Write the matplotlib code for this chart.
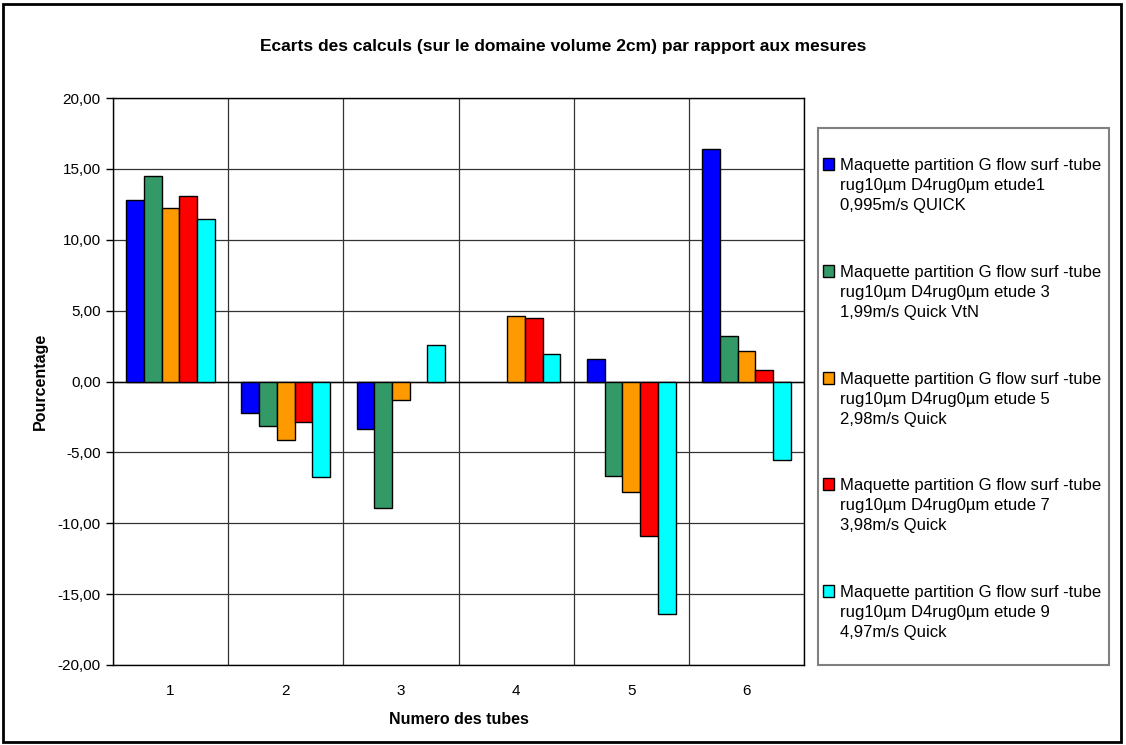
import numpy as np
import matplotlib.pyplot as plt
from matplotlib.patches import Rectangle
from matplotlib.ticker import FuncFormatter

plt.rcParams['font.family'] = ['Liberation Sans', 'DejaVu Sans']

# data (nan = no bar)
tubes = ['1', '2', '3', '4', '5', '6']
etude1 = [12.83, -2.19, -3.34, np.nan, 1.62, 16.37]
etude3 = [14.49, -3.16, -8.95, np.nan, -6.67, 3.18]
etude5 = [12.22, -4.12, -1.32, 4.64, -7.77, 2.12]
etude7 = [13.12, -2.85, np.nan, 4.50, -10.88, 0.80]
etude9 = [11.49, -6.76, 2.59, 1.95, -16.37, -5.54]

series = [etude1, etude3, etude5, etude7, etude9]
colors = ['#0000FF', '#339966', '#FF9900', '#FF0000', '#00FFFF']
labels = ['Maquette partition G flow surf -tube\nrug10µm D4rug0µm etude1\n0,995m/s QUICK',
          'Maquette partition G flow surf -tube\nrug10µm D4rug0µm etude 3\n1,99m/s Quick VtN',
          'Maquette partition G flow surf -tube\nrug10µm D4rug0µm etude 5\n2,98m/s Quick',
          'Maquette partition G flow surf -tube\nrug10µm D4rug0µm etude 7\n3,98m/s Quick',
          'Maquette partition G flow surf -tube\nrug10µm D4rug0µm etude 9\n4,97m/s Quick']

W, H = 1126, 745
fig = plt.figure(figsize=(W/100, H/100), dpi=100)
ax = fig.add_axes([113/W, 1-665/H, (804-113)/W, (665-98)/H])

x = np.arange(len(tubes))
w = 1/6.5
for i, vals in enumerate(series):
    ax.bar(x + (i-2)*w, vals, width=w, color=colors[i], edgecolor='black', linewidth=1, zorder=3)

ax.set_xlim(-0.5, len(tubes)-0.5)
ax.set_ylim(-20, 20)
ax.set_yticks(np.arange(-20, 21, 5))
ax.yaxis.set_major_formatter(FuncFormatter(lambda v, p: f'{v:.2f}'.replace('.', ',')))
ax.set_xticks(np.arange(-0.5, len(tubes), 1))
ax.set_xticklabels([])
ax.set_xticks(x, minor=True)
ax.set_xticklabels(tubes, minor=True)
ax.tick_params(axis='x', which='both', length=0, pad=14, labelsize=11)
ax.tick_params(axis='y', length=5, width=1, labelsize=11, pad=4)
ax.grid(True, which='major', color='#333333', linewidth=0.9, zorder=1)
ax.axhline(0, color='black', linewidth=1, zorder=2)
for s in ax.spines.values():
    s.set_color('black')
    s.set_linewidth(1)

ax.set_xlabel('Numero des tubes', fontsize=11.5, fontweight='bold', labelpad=10)
ax.set_ylabel('Pourcentage', fontsize=11.5, fontweight='bold', labelpad=7)
fig.text(0.5, 1-47/H, 'Ecarts des calculs (sur le domaine volume 2cm) par rapport aux mesures',
         ha='center', va='center', fontsize=12.5, fontweight='bold')

# legend box drawn by hand so the key sits on the first text line
fig.patches.append(Rectangle((818/W, 1-665/H), (1109-818)/W, (665-128)/H, transform=fig.transFigure,
                             fill=False, edgecolor='#808080', linewidth=1.5))
for i, lab in enumerate(labels):
    yc = 164 + 106.8*i
    fig.patches.append(Rectangle((823/W, 1-(yc+6)/H), 11/W, 12/H, transform=fig.transFigure,
                                 facecolor=colors[i], edgecolor='black', linewidth=1))
    for k, line in enumerate(lab.split('\n')):
        fig.text(840/W, 1-(yc+20*k)/H, line, ha='left', va='center_baseline', fontsize=12)

# outer frame
fig.patches.append(Rectangle((3/W, 3/H), (1121-3)/W, (741-3)/H, transform=fig.transFigure,
                             fill=False, edgecolor='black', linewidth=2))

fig.savefig('out.png', dpi=100)
